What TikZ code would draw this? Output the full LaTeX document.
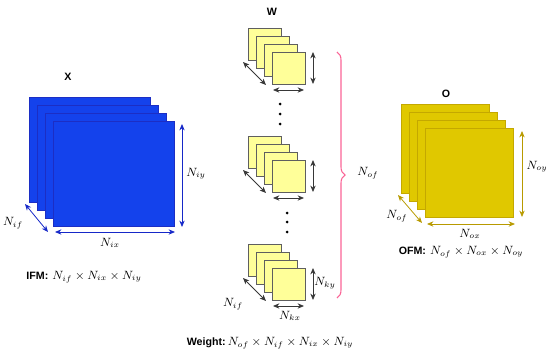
\documentclass[tikz,border=0pt]{standalone}
\usepackage{amsmath, amssymb}
\usepackage{fontspec}
\newfontfamily\lblfont{Liberation Sans}
\usepackage{xcolor}
\usepackage{tikz}
\usetikzlibrary{arrows.meta, decorations.pathreplacing, calc}

\definecolor{ifmfill}{RGB}{20,66,236}
\definecolor{ifmedge}{RGB}{28,46,196}
\definecolor{ifmarrow}{RGB}{22,40,200}
\definecolor{wfill}{RGB}{255,255,153}
\definecolor{wedge}{RGB}{95,95,95}
\definecolor{warrow}{RGB}{55,55,55}
\definecolor{ofmfill}{RGB}{224,200,0}
\definecolor{ofmedge}{RGB}{196,168,0}
\definecolor{ofmarrow}{RGB}{184,154,0}
\definecolor{bracepink}{RGB}{250,100,150}

\newcommand{\lblfmt}{\lblfont\bfseries\fontsize{8}{10}\selectfont}

\tikzset{
  dimarrow/.style={{Stealth[length=4.8pt,width=4pt]}-{Stealth[length=4.8pt,width=4pt]},
                   line width=0.6pt},
  lbl/.style={font=\lblfmt},
  ifmplane/.style={fill=ifmfill, draw=ifmedge, line width=0.6pt},
  wplane/.style={fill=wfill, draw=wedge, line width=0.6pt},
  ofmplane/.style={fill=ofmfill, draw=ofmedge, line width=0.6pt},
}

\begin{document}
\begin{tikzpicture}[x=0.75pt,y=-0.75pt, font=\fontsize{9}{11}\selectfont]
\useasboundingbox (0,0) rectangle (550,357);

% --- INPUT FEATURE MAP ---
\node[lbl] (xlbl) at (68,77) {X};
\foreach \k in {0,...,3} {
  \filldraw[ifmplane] (29+8*\k,97+8*\k) rectangle +(121,105);
}
\coordinate (xya) at (182,124);
\coordinate (xyb) at (182,227);
\coordinate (xxa) at (55,232);
\coordinate (xxb) at (175,232);
\coordinate (xfa) at (25,204);
\coordinate (xfb) at (48,232);
\draw[dimarrow, ifmarrow] (xya) -- (xyb);
\draw[dimarrow, ifmarrow] (xxa) -- (xxb);
\draw[dimarrow, ifmarrow] (xfa) -- (xfb);
\node (niy) at (196,174) {$N_{iy}$};
\node (nix) at (110,243) {$N_{ix}$};
\node (nif) at (13,223) {$N_{if}$};
\node (ifm) at (84,277) {{\lblfmt IFM:}\ $N_{if}\times N_{ix}\times N_{iy}$};

% --- WEIGHTS ---
\node[lbl] (wlbl) at (272,12) {W};
\foreach \g in {0,1,2} {
  \foreach \k in {0,...,3} {
    \filldraw[wplane] (248+8*\k,28+108*\g+8*\k) rectangle +(33,32);
  }
  \coordinate (wya\g) at (313,52+108*\g);
  \coordinate (wyb\g) at (313,84+108*\g);
  \coordinate (wxa\g) at (273,90+108*\g);
  \coordinate (wxb\g) at (304,90+108*\g);
  \coordinate (wfa\g) at (243,62+108*\g);
  \coordinate (wfb\g) at (266,85+108*\g);
  \draw[dimarrow, warrow] (wya\g) -- (wyb\g);
  \draw[dimarrow, warrow] (wxa\g) -- (wxb\g);
  \draw[dimarrow, warrow] (wfa\g) -- (wfb\g);
}
\node (nky) at (325,283) {$N_{ky}$};
\node (nkx) at (290,316) {$N_{kx}$};
\node (nwf) at (233,304) {$N_{if}$};

% --- ELLIPSIS ---
\foreach \y in {104,114,124} {
  \fill (280,\y) circle (1.5);
}
\foreach \y in {213,222,232} {
  \fill (287,\y) circle (1.5);
}

% --- BRACE ---
\coordinate (bra) at (337,52);
\coordinate (brb) at (337,298);
\draw[bracepink, line width=0.8pt, decorate,
      decoration={brace, amplitude=6pt}] (bra) -- (brb);
\node (nof) at (368,173) {$N_{of}$};

\node (wgt) at (270,343) {{\lblfmt Weight:}$\,N_{of}\times N_{if}\times N_{ix}\times N_{iy}$};

% --- OUTPUT FEATURE MAP ---
\node[lbl] (olbl) at (446,94) {O};
\foreach \k in {0,...,3} {
  \filldraw[ofmplane] (401+8*\k,104+8*\k) rectangle +(88,89);
}
\coordinate (oya) at (522,131);
\coordinate (oyb) at (522,217);
\coordinate (oxa) at (427,224);
\coordinate (oxb) at (515,224);
\coordinate (ofa) at (398,195);
\coordinate (ofb) at (422,223);
\draw[dimarrow, ofmarrow] (oya) -- (oyb);
\draw[dimarrow, ofmarrow] (oxa) -- (oxb);
\draw[dimarrow, ofmarrow] (ofa) -- (ofb);
\node (noy) at (537,167) {$N_{oy}$};
\node (nox) at (470,234) {$N_{ox}$};
\node (nofm) at (397,216) {$N_{of}$};
\node (ofm) at (461,252) {{\lblfmt OFM:}\ $N_{of}\times N_{ox}\times N_{oy}$};
\end{tikzpicture}
\end{document}
